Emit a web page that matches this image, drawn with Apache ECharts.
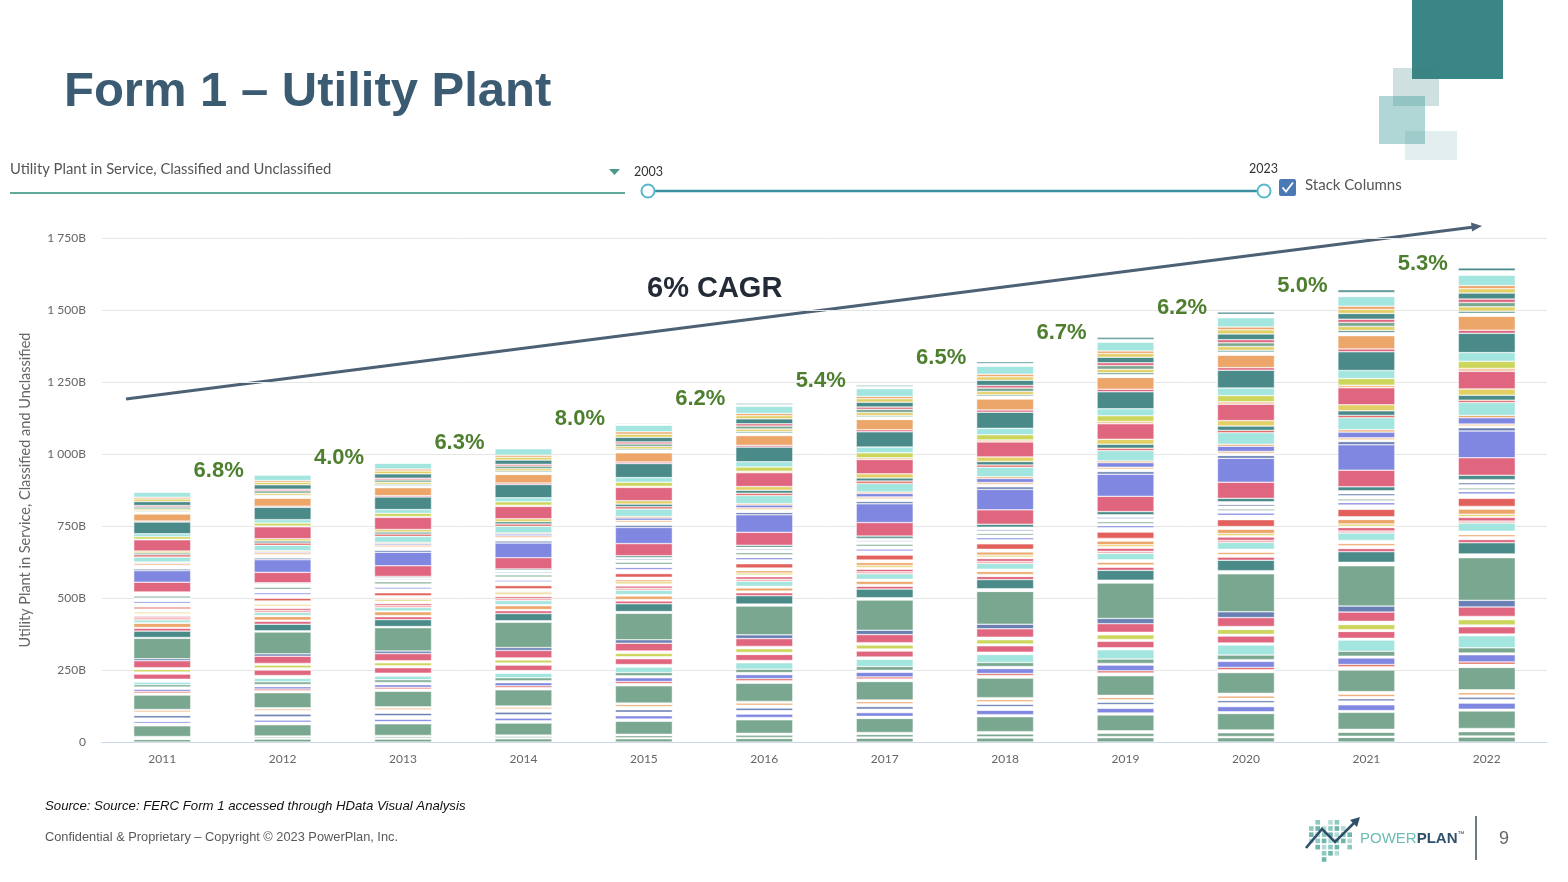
<!DOCTYPE html>
<html>
<head>
<meta charset="utf-8">
<script src="https://cdn.jsdelivr.net/npm/echarts@6/dist/echarts.min.js"></script>
<style>
html,body{margin:0;padding:0;background:#fff;}
#chart{width:1568px;height:882px;}
</style>
</head>
<body>
<div id="chart"></div>
<script>
// ---------------- DATA ----------------
const years = ['2011','2012','2013','2014','2015','2016','2017','2018','2019','2020','2021','2022'];
const growthLabels = ['6.8%','4.0%','6.3%','8.0%','6.2%','5.4%','6.5%','6.7%','6.2%','5.0%','5.3%']; // 2012..2022
const yTicks = [0,250,500,750,1000,1250,1500,1750];

// stacked segments (B$), bottom to top, one value per year 2011..2022
const s01 = [9,10,10,11,11,12,13,14,15,15,16,17];
const s02 = [4,4,4,4,4,4,4,4,4,4,4,4];
const s03 = [3,4,5,5,7,8,9,10,11,13,14,15];
const s04 = [3,3,4,4,5,6,7,8,9,10,10,11];
const s05 = [37,39,40,42,45,47,49,52,55,57,59,61];
const s06 = [9,9,8,8,8,8,7,7,7,6,6,6];
const s07 = [6,7,8,9,11,12,13,15,16,18,20,21];
const s08 = [12,12,12,12,12,12,12,13,13,13,13,13];
const s09 = [9,9,9,9,9,9,9,8,8,8,8,8];
const s10 = [12,12,12,11,11,10,10,9,9,8,8,7];
const s11 = [6,6,6,6,7,7,7,7,7,8,8,8];
const s12 = [3,4,4,4,5,6,6,7,8,9,9,10];
const s13 = [50,52,54,56,60,63,64,68,68,72,75,78];
const s14 = [7,7,8,8,8,9,9,9,10,10,11,11];
const s15 = [6,6,6,6,7,7,7,7,7,8,8,8];
const s16 = [7,8,9,11,13,14,16,17,20,21,23,25];
const s17 = [8,8,8,7,7,7,7,7,6,6,6,6];
const s18 = [8,9,9,10,11,12,13,14,15,16,17,18];
const s19 = [9,12,13,16,19,22,25,28,32,35,39,42];
const s20 = [10,10,10,9,9,8,8,8,7,7,6,6];
const s21 = [18,19,19,19,20,21,21,22,23,24,24,25];
const s22 = [7,7,7,7,7,7,7,6,6,6,6,6];
const s23 = [9,10,10,11,12,13,14,15,16,17,18,19];
const s24 = [6,6,7,7,8,8,8,9,9,10,11,11];
const s25 = [24,25,25,26,27,27,28,29,30,31,32,33];
const s26 = [7,8,9,10,12,13,15,16,18,20,21,23];
const s27 = [71,76,81,88,92,100,105,114,123,132,140,148];
const s28 = [3,4,4,5,6,7,8,9,10,11,12,13];
const s29 = [22,23,24,25,27,29,30,32,34,36,37,39];
const s30 = [10,10,10,10,10,10,10,11,11,11,11,11];
const s31 = [3,4,4,4,5,6,6,7,8,9,9,10];
const s32 = [14,13,13,13,12,11,11,10,9,8,8,7];
const s33 = [2,3,3,4,5,6,7,8,9,10,11,12];
const s34 = [10,11,12,14,15,17,19,20,22,24,26,28];
const s35 = [7,7,7,7,7,7,7,7,7,7,7,7];
const s36 = [6,7,7,7,8,9,9,10,11,12,12,13];
const s37 = [8,8,8,7,7,6,6,5,5,4,4,3];
const s38 = [6,6,6,6,7,7,7,7,7,8,8,8];
const s39 = [2,3,4,5,7,8,10,11,13,15,16,18];
const s40 = [9,9,9,9,9,9,9,9,9,9,9,9];
const s41 = [7,9,10,11,13,15,17,19,22,24,26,28];
const s42 = [13,13,13,13,14,14,14,14,15,15,15,15];
const s43 = [6,6,6,6,7,7,7,7,7,8,8,8];
const s44 = [12,12,12,11,11,10,10,9,8,8,7,7];
const s45 = [7,7,7,7,7,7,7,6,6,6,6,6];
const s46 = [7,7,8,8,8,9,9,9,10,10,11,11];
const s47 = [2,2,3,3,4,4,4,5,5,6,7,7];
const s48 = [3,4,4,5,5,6,7,8,9,9,10,11];
const s49 = [2,3,4,5,6,7,8,10,11,12,14,15];
const s50 = [34,36,37,39,42,45,47,50,53,56,58,61];
const s51 = [40,44,47,51,56,61,65,71,77,83,88,93];
const s52 = [6,6,7,7,8,8,8,9,9,10,11,11];
const s53 = [12,11,11,11,10,9,9,8,8,7,6,6];
const s54 = [7,7,7,7,7,7,7,7,7,7,7,7];
const s55 = [2,4,5,6,8,10,12,14,16,18,20,22];
const s56 = [3,3,4,4,5,5,5,6,6,7,8,8];
const s57 = [17,19,21,23,26,28,30,33,36,40,42,45];
const s58 = [8,8,8,8,8,8,8,8,8,8,8,8];
const s59 = [6,7,7,8,9,10,11,12,14,15,16,17];
const s60 = [7,8,9,10,12,13,14,16,17,19,21,22];
const s61 = [39,41,42,43,46,48,50,52,54,57,59,61];
const s62 = [2,3,3,4,4,5,6,7,8,8,9,10];
const s63 = [9,10,11,12,14,15,17,18,20,22,23,25];
const s64 = [10,12,13,14,16,18,20,22,24,26,28,30];
const s65 = [41,43,44,46,49,51,53,56,59,62,65,67];
const s66 = [3,4,4,5,5,6,7,8,9,9,10,11];
const s67 = [25,27,28,30,32,34,36,38,41,43,46,48];
const s68 = [8,8,8,8,9,9,9,10,10,11,11,11];
const s69 = [3,3,4,4,4,5,5,5,6,6,7,7];
const s70 = [6,7,7,8,9,9,10,11,12,13,14,15];
const s71 = [7,8,8,9,9,10,11,12,13,13,14,15];
const s72 = [5,6,6,6,7,8,8,9,10,11,11,12];
const s73 = [14,15,15,15,16,17,17,18,19,20,20,21];
const s74 = [9,9,10,10,11,11,12,12,13,14,14,15];
const s75 = [6,6,7,7,8,8,8,9,9,10,11,11];
const s76 = [18,19,20,22,23,25,27,28,30,32,34,36];
const s77 = [0,1,2,3,5,6,7,9,10,12,14,15];
const s78 = [0,1,1,2,3,4,5,6,7,8,9,10];

// ---------------- STYLE ----------------
const PAL = {
  sage:'#7aa78f', teal:'#4a8b8a', aqua:'#a3e5df', pink:'#e0657f', violet:'#8087e0',
  slate:'#6a80b4', orange:'#eca66a', yellow:'#e2d067', lime:'#cdd65c', red:'#e2615c',
  peach:'#f5c49a', salmon:'#f2a3a3', gap:'#ffffff'
};
const STACK = [
 [s01,'sage'],[s02,'gap'],[s03,'sage'],[s04,'gap'],[s05,'sage'],[s06,'gap'],[s07,'violet'],[s08,'gap'],
 [s09,'slate'],[s10,'gap'],[s11,'orange'],[s12,'gap'],[s13,'sage'],[s14,'gap'],[s15,'red'],[s16,'violet'],
 [s17,'gap'],[s18,'sage'],[s19,'aqua'],[s20,'gap'],[s21,'pink'],[s22,'gap'],[s23,'lime'],[s24,'gap'],
 [s25,'pink'],[s26,'slate'],[s27,'sage'],[s28,'gap'],[s29,'teal'],[s30,'pink'],[s31,'gap'],[s32,'orange'],
 [s33,'gap'],[s34,'aqua'],[s35,'salmon'],[s36,'pink'],[s37,'gap'],[s38,'yellow'],[s39,'orange'],[s40,'gap'],
 [s41,'red'],[s42,'gap'],[s43,'violet'],[s44,'gap'],[s45,'sage'],[s46,'gap'],[s47,'slate'],[s48,'gap'],
 [s49,'teal'],[s50,'pink'],[s51,'violet'],[s52,'slate'],[s53,'gap'],[s54,'peach'],[s55,'violet'],[s56,'orange'],
 [s57,'aqua'],[s58,'red'],[s59,'teal'],[s60,'yellow'],[s61,'pink'],[s62,'peach'],[s63,'lime'],[s64,'aqua'],
 [s65,'teal'],[s66,'pink'],[s67,'orange'],[s68,'gap'],[s69,'teal'],[s70,'yellow'],[s71,'sage'],[s72,'pink'],
 [s73,'teal'],[s74,'yellow'],[s75,'orange'],[s76,'aqua'],[s77,'gap'],[s78,'teal']
];

const totals = years.map((_, i) => STACK.reduce((acc, s) => acc + s[0][i], 0));

const barSeries = STACK.map(([arr, key], k) => ({
  type: 'bar', stack: 'plant', name: 'seg' + (k + 1), data: arr,
  barWidth: 57, silent: true,
  itemStyle: { color: PAL[key], borderColor: '#ffffff', borderWidth: 0.5 }
}));

const labelSeries = {
  type: 'scatter', silent: true, z: 10, symbolSize: 0,
  itemStyle: { color: 'rgba(0,0,0,0)', opacity: 1 },
  data: years.slice(1).map((y, i) => [y, totals[i + 1]]),
  label: {
    show: true, position: 'inside', offset: [-64, -4],
    formatter: p => growthLabels[p.dataIndex],
    color: '#4e7f2e', opacity: 1, fontSize: 22, fontWeight: 'bold', fontFamily: '"Liberation Sans", Arial, sans-serif'
  }
};

const UI = 'Lato, "Noto Sans", sans-serif';
const AR = '"Liberation Sans", Arial, sans-serif';

const logoSquares = [];
const logoCells = [
 [1,0],[3,0],[4,0],
 [0,1],[1,1],[2,1],[3,1],[4,1],[5,1],
 [0,2],[1,2],[2,2],[3,2],[4,2],[5,2],[6,2],
 [0,3],[1,3],[2,3],[3,3],[4,3],[5,3],[6,3],
 [1,4],[2,4],[3,4],[4,4],[6,4],
 [2,5],[3,5],[4,5],
 [2,6]
];
const logoCols = ['#b5dbd6','#8ccac1','#6fb7ad'];
logoCells.forEach(([c, r]) => {
  logoSquares.push({ type:'rect', silent:true, shape:{ x:1309 + c*6.4, y:820 + r*6.2, width:4.6, height:4.6 },
    style:{ fill: logoCols[(c + r) % 3] } });
});

const graphics = [
  { type:'rect', silent:true, shape:{x:1412,y:0,width:91,height:79}, style:{fill:'#3a8585'} },
  { type:'rect', silent:true, shape:{x:1393,y:68,width:46,height:38}, style:{fill:'#3a8585', opacity:0.25} },
  { type:'rect', silent:true, shape:{x:1379,y:96,width:46,height:48}, style:{fill:'#3a9a96', opacity:0.4} },
  { type:'rect', silent:true, shape:{x:1405,y:131,width:52,height:29}, style:{fill:'#3a8f8a', opacity:0.14} },
  { type:'text', silent:true, left:64, top:68, style:{ text:'Form 1 – Utility Plant', fill:'#3b5b73', font:'bold 49px ' + AR } },
  { type:'text', silent:true, left:10, top:162, style:{ text:'Utility Plant in Service, Classified and Unclassified', fill:'#555', font:'14.8px ' + UI } },
  { type:'line', silent:true, shape:{x1:10,y1:193,x2:625,y2:193}, style:{stroke:'#5fa89a', lineWidth:2} },
  { type:'polygon', silent:true, shape:{points:[[609,169],[620,169],[614.5,175]]}, style:{fill:'#4d9a8c'} },
  { type:'line', silent:true, shape:{x1:648,y1:191,x2:1264,y2:191}, style:{stroke:'#3b8fa0', lineWidth:2.5} },
  { type:'circle', silent:true, shape:{cx:648,cy:191,r:6.5}, style:{fill:'#fff', stroke:'#5ab8cc', lineWidth:2} },
  { type:'circle', silent:true, shape:{cx:1264,cy:191,r:6.5}, style:{fill:'#fff', stroke:'#5ab8cc', lineWidth:2} },
  { type:'text', silent:true, left:634, top:165, style:{ text:'2003', fill:'#333', font:'12.5px ' + UI } },
  { type:'text', silent:true, left:1249, top:162, style:{ text:'2023', fill:'#333', font:'12.5px ' + UI } },
  { type:'rect', silent:true, shape:{x:1279,y:179,width:17,height:17,r:2}, style:{fill:'#4b79b5'} },
  { type:'polyline', silent:true, shape:{points:[[1282.5,187.5],[1286,191.5],[1293,182.5]]}, style:{stroke:'#fff', lineWidth:1.8, fill:null} },
  { type:'text', silent:true, left:1305, top:178, style:{ text:'Stack Columns', fill:'#555', font:'15px ' + UI } },
  { type:'line', silent:true, shape:{x1:126,y1:399,x2:1472,y2:227.2}, style:{stroke:'#4d6175', lineWidth:3} },
  { type:'polygon', silent:true, shape:{points:[[1482,226],[1471,222.4],[1472,231.4]]}, style:{fill:'#4d6175'} },
  { type:'text', silent:true, left:647, top:274, style:{ text:'6% CAGR', fill:'#222b36', font:'bold 29px ' + AR } },
  { type:'text', silent:true, left:45, top:800, style:{ text:'Source: Source: FERC Form 1 accessed through HData Visual Analysis', fill:'#111', font:'italic 13.2px ' + AR } },
  { type:'text', silent:true, left:45, top:831, style:{ text:'Confidential & Proprietary – Copyright © 2023 PowerPlan, Inc.', fill:'#595959', font:'12.8px ' + AR } },
  { type:'line', silent:true, shape:{x1:1476,y1:816,x2:1476,y2:860}, style:{stroke:'#6b7b82', lineWidth:2} },
  { type:'text', silent:true, left:1499, top:830, style:{ text:'9', fill:'#666', font:'18px ' + AR } },
  ...logoSquares,
  { type:'polyline', silent:true, shape:{points:[[1306,848],[1322,829],[1335,842],[1355,822]]}, style:{stroke:'#2f4f6a', lineWidth:2.6, fill:null} },
  { type:'polygon', silent:true, shape:{points:[[1360,817],[1350,820],[1357,827]]}, style:{fill:'#2f4f6a'} },
  { type:'text', silent:true, left:1360, top:831, style:{ text:'{a|POWER}{b|PLAN}{c|™}', rich:{
      a:{ fill:'#6cbdb5', font:'15px ' + AR },
      b:{ fill:'#2f506c', font:'bold 15px ' + AR },
      c:{ fill:'#2f506c', font:'7px ' + AR, verticalAlign:'top' } } } }
];

const chart = echarts.init(document.getElementById('chart'), null, { renderer: 'canvas' });
chart.setOption({
  animation: false,
  backgroundColor: '#ffffff',
  grid: { left: 102, right: 21, top: 238, bottom: 140, containLabel: false },
  xAxis: {
    type: 'category', data: years,
    axisTick: { show: false },
    axisLine: { lineStyle: { color: '#ccd6eb' } },
    axisLabel: { color: '#666', fontSize: 12, fontFamily: UI, margin: 11 }
  },
  yAxis: {
    type: 'value', min: yTicks[0], max: yTicks[yTicks.length - 1], interval: 250,
    name: 'Utility Plant in Service, Classified and Unclassified',
    nameLocation: 'middle', nameGap: 69, nameRotate: 90,
    nameTextStyle: { color: '#666', fontSize: 14.5, fontFamily: UI },
    axisLine: { show: false }, axisTick: { show: false },
    splitLine: { lineStyle: { color: '#e6e6e6' } },
    axisLabel: {
      color: '#666', fontSize: 12, fontFamily: UI, margin: 16,
      formatter: v => v === 0 ? '0' : String(v).replace(/\B(?=(\d{3})+(?!\d))/g, ' ') + 'B'
    }
  },
  series: [...barSeries, labelSeries],
  graphic: graphics
});
</script>
</body>
</html>
